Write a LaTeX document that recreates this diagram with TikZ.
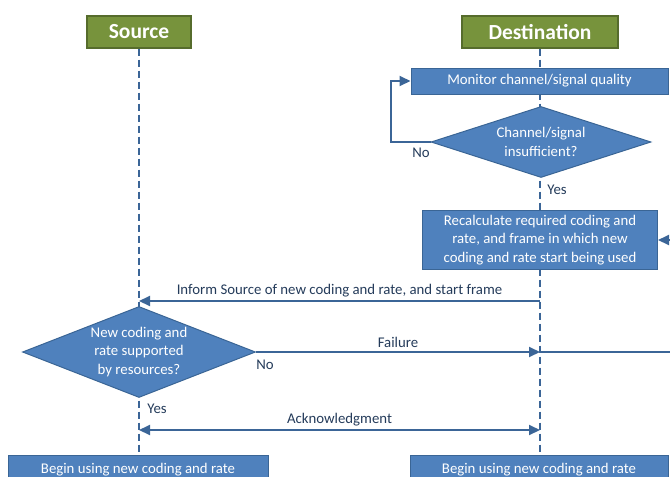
\documentclass[tikz,border=0pt]{standalone}
\usepackage{fontspec}
\setmainfont{Carlito}
\usetikzlibrary{shapes.geometric,arrows.meta,backgrounds}
\definecolor{boxblue}{HTML}{4F81BD}
\definecolor{boxedge}{HTML}{3A6595}
\definecolor{hdgreen}{HTML}{77933C}
\definecolor{hdedge}{HTML}{566C2C}
\definecolor{lineblue}{HTML}{3B6597}
\definecolor{labeltext}{HTML}{243B5A}
\begin{document}
\begin{tikzpicture}[x=1pt,y=-1pt,
  header/.style={draw=hdedge, line width=1.2pt, fill=hdgreen, text=white,
    font=\fontsize{21.5}{25}\selectfont\bfseries, minimum height=32pt, inner sep=0pt},
  procbox/.style={draw=boxedge, line width=1pt, fill=boxblue, text=white,
    font=\fontsize{14.8}{18.5}\selectfont, align=center, inner sep=0pt},
  decision/.style={diamond, draw=boxedge, line width=1pt, fill=boxblue, text=white,
    font=\fontsize{14.8}{18.5}\selectfont, align=center, inner sep=0pt},
  lifeline/.style={draw=lineblue, line width=2pt, dash pattern=on 7pt off 4pt},
  conn/.style={draw=lineblue, line width=2pt},
  msg/.style={conn, -{Triangle[length=11pt,width=10pt]}},
  lbl/.style={text=labeltext, font=\fontsize{14.8}{18}\selectfont, inner sep=1pt}]
\clip (0,0) rectangle (670,477);
% headers
\node[header, minimum width=104pt] (src) at (139,32) {Source};
\node[header, minimum width=156pt] (dst) at (540,32) {Destination};
% destination side
\node[procbox, minimum width=257pt, minimum height=26pt] (mon) at (539.5,81) {Monitor channel/signal quality};
\node[decision, minimum width=220pt, minimum height=71pt, aspect=3.1] (chk) at (541,142) {Channel/signal\\insufficient?};
\node[procbox, minimum width=235pt, minimum height=59pt] (recalc) at (540,240)
  {Recalculate required coding and\\rate, and frame in which new\\coding and rate start being used};
% source side
\node[decision, minimum width=233pt, minimum height=91pt, aspect=2.56] (sup) at (139,352)
  {New coding and\\rate supported\\by resources?};
% bottom boxes
\node[procbox, minimum width=260pt, minimum height=30pt] (bl) at (138,470) {Begin using new coding and rate};
\node[procbox, minimum width=258pt, minimum height=30pt] (br) at (539,470) {Begin using new coding and rate};
% lifelines
\begin{scope}[on background layer]
\draw[lifeline] (src.south) -- (src.south |- bl.north);
\draw[lifeline] (dst.south) -- (dst.south |- br.north);
\end{scope}
% points on lifelines
\coordinate (s1) at (139,301);
\coordinate (d1) at (540,301);
\coordinate (d2) at (540,352);
\coordinate (s3) at (139,430);
\coordinate (d3) at (540,430);
\coordinate (offr1) at (690,240);
\coordinate (offr2) at (690,352);
% loop
\draw[msg] (chk.west) -- ++(-40,0) |- (mon.west);
\node[lbl] (no1) at (421,153) {No};
\node[lbl] (yes1) at (557,190) {Yes};
% messages
\draw[msg] (d1) -- node[lbl, above=2pt] (inf) {Inform Source of new coding and rate, and start frame} (s1);
\draw[msg] (sup.east) -- node[lbl, above=2pt] (fail) {Failure} (d2);
\draw[conn] (d2) -- (offr2);
\draw[msg] (offr1) -- (recalc.east);
\node[lbl] (no2) at (265,365) {No};
\node[lbl] (yes2) at (157,409) {Yes};
\draw[conn, {Triangle[length=11pt,width=10pt]}-{Triangle[length=11pt,width=10pt]}] (s3) -- node[lbl, above=2pt] (ack) {Acknowledgment} (d3);
\end{tikzpicture}
\end{document}
